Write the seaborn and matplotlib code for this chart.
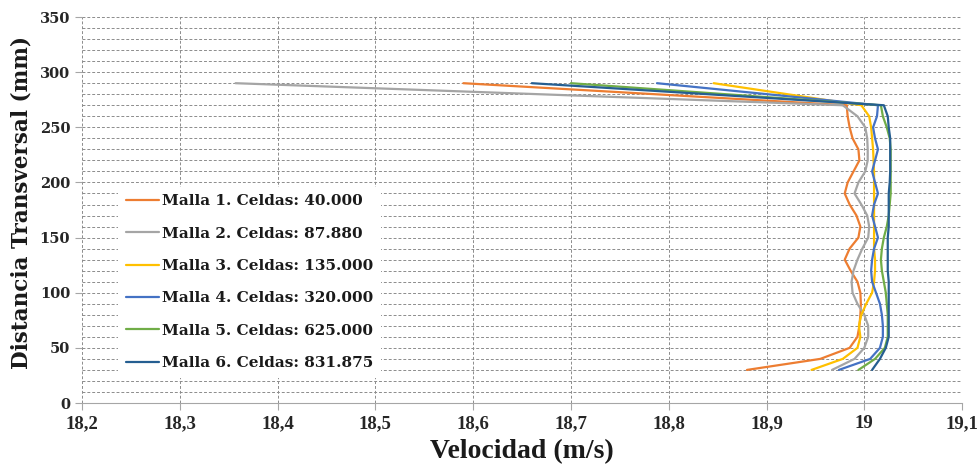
import pandas as pd
import matplotlib
matplotlib.use("Agg")
import matplotlib.pyplot as plt
import seaborn as sns

# distancia transversal (mm), same for every malla
distancia = [30, 40, 50, 60, 70, 80, 90, 100, 110, 120, 130, 140, 150,
             160, 170, 180, 190, 200, 210, 220, 230, 240, 250, 260, 270, 290]

malla_1 = [18.880, 18.955, 18.985, 18.993, 18.995, 18.996, 18.9965, 18.996, 18.993,
           18.986, 18.980, 18.985, 18.994, 18.996, 18.992, 18.985, 18.980, 18.983,
           18.989, 18.995, 18.994, 18.988, 18.985, 18.983, 18.982, 18.590]
malla_2 = [18.967, 18.990, 19.000, 19.004, 19.004, 19.000, 18.993, 18.988, 18.987,
           18.989, 18.993, 18.998, 19.004, 19.005, 19.003, 18.997, 18.990, 18.994,
           19.001, 19.0035, 19.0035, 19.003, 19.001, 18.993, 18.978, 18.357]
malla_3 = [18.946, 18.978, 18.993, 18.996, 18.9945, 18.997, 19.002, 19.008, 19.010,
           19.011, 19.011, 19.010, 19.010, 19.010, 19.010, 19.010, 19.010, 19.010,
           19.010, 19.0095, 19.009, 19.008, 19.007, 19.005, 18.997, 18.846]
malla_4 = [18.974, 19.006, 19.016, 19.019, 19.019, 19.018, 19.016, 19.012, 19.008,
           19.007, 19.008, 19.010, 19.014, 19.011, 19.008, 19.010, 19.014, 19.011,
           19.008, 19.011, 19.014, 19.011, 19.009, 19.013, 19.014, 18.788]
malla_5 = [18.994, 19.011, 19.021, 19.024, 19.024, 19.024, 19.023, 19.022, 19.020,
           19.018, 19.017, 19.018, 19.020, 19.023, 19.025, 19.026, 19.027, 19.027,
           19.027, 19.027, 19.027, 19.026, 19.023, 19.019, 19.017, 18.700]
malla_6 = [19.008, 19.016, 19.022, 19.025, 19.025, 19.025, 19.025, 19.025, 19.025,
           19.024, 19.024, 19.024, 19.024, 19.025, 19.025, 19.025, 19.025, 19.026,
           19.0265, 19.0265, 19.0265, 19.0265, 19.025, 19.024, 19.020, 18.660]

nombres = ["Malla 1. Celdas: 40.000", "Malla 2. Celdas: 87.880",
           "Malla 3. Celdas: 135.000", "Malla 4. Celdas: 320.000",
           "Malla 5. Celdas: 625.000", "Malla 6. Celdas: 831.875"]
colores = ["#ED7D31", "#A5A5A5", "#FFC000", "#4472C4", "#70AD47", "#255E91"]

x_ticks = [18.2, 18.3, 18.4, 18.5, 18.6, 18.7, 18.8, 18.9, 19.0, 19.1]
x_labels = ["18,2", "18,3", "18,4", "18,5", "18,6", "18,7", "18,8", "18,9", "19", "19,1"]
y_ticks = [0, 50, 100, 150, 200, 250, 300, 350]


def build_frame():
    rows = []
    for nombre, serie in zip(nombres, [malla_1, malla_2, malla_3, malla_4, malla_5, malla_6]):
        for d, v in zip(distancia, serie):
            rows.append({"malla": nombre, "velocidad": v, "distancia": d})
    return pd.DataFrame(rows)


def main():
    df = build_frame()
    sns.set_style("white")

    fig = plt.figure(figsize=(9.8, 4.69), dpi=100)
    ax = fig.add_axes([0.0837, 0.1407, 0.898, 0.823])

    sns.lineplot(data=df, x="velocidad", y="distancia", hue="malla",
                 hue_order=nombres, palette=dict(zip(nombres, colores)),
                 sort=False, estimator=None, linewidth=1.6, ax=ax)

    ax.set_xlim(18.2, 19.1)
    ax.set_ylim(0, 350)
    ax.set_xticks(x_ticks)
    ax.set_xticklabels(x_labels)
    ax.set_yticks(y_ticks)
    ax.set_yticks(range(0, 351, 10), minor=True)

    ax.grid(True, which="both", linestyle=(0, (3, 2)), color="#8c8c8c", linewidth=0.7)
    ax.set_axisbelow(True)
    for s in ["top", "right", "left"]:
        ax.spines[s].set_visible(False)
    ax.spines["bottom"].set_color("#a6a6a6")
    ax.tick_params(axis="both", which="major", length=5, color="#a6a6a6", direction="out")
    ax.tick_params(axis="both", which="minor", length=0)
    ax.tick_params(axis="y", left=True)
    ax.tick_params(axis="x", bottom=True)

    for lab in ax.get_yticklabels():
        lab.set_fontfamily("DejaVu Serif")
        lab.set_fontweight("bold")
        lab.set_fontsize(10.5)
        lab.set_color("#262626")
    for lab in ax.get_xticklabels():
        lab.set_fontfamily("Liberation Serif")
        lab.set_fontweight("bold")
        lab.set_fontsize(13.5)
        lab.set_color("#262626")

    ax.set_xlabel("Velocidad (m/s)", fontsize=20, fontweight="bold",
                  family="Liberation Serif", color="#1a1a1a", labelpad=5)
    ax.set_ylabel("Distancia Transversal (mm)", fontsize=15.5, fontweight="bold",
                  family="DejaVu Serif", color="#1a1a1a", labelpad=5, y=0.52)

    leg = ax.legend(loc="upper left", bbox_to_anchor=(0.041, 0.56), borderaxespad=0,
                    frameon=True, fancybox=False, framealpha=1, edgecolor="none",
                    facecolor="white", handlelength=2.2, handletextpad=0.15,
                    labelspacing=1.2, borderpad=0.5,
                    prop={"family": "DejaVu Serif", "weight": "bold", "size": 11})
    for t in leg.get_texts():
        t.set_color("#1a1a1a")

    fig.savefig("out.png", dpi=100)
    plt.close(fig)


if __name__ == "__main__":
    main()
